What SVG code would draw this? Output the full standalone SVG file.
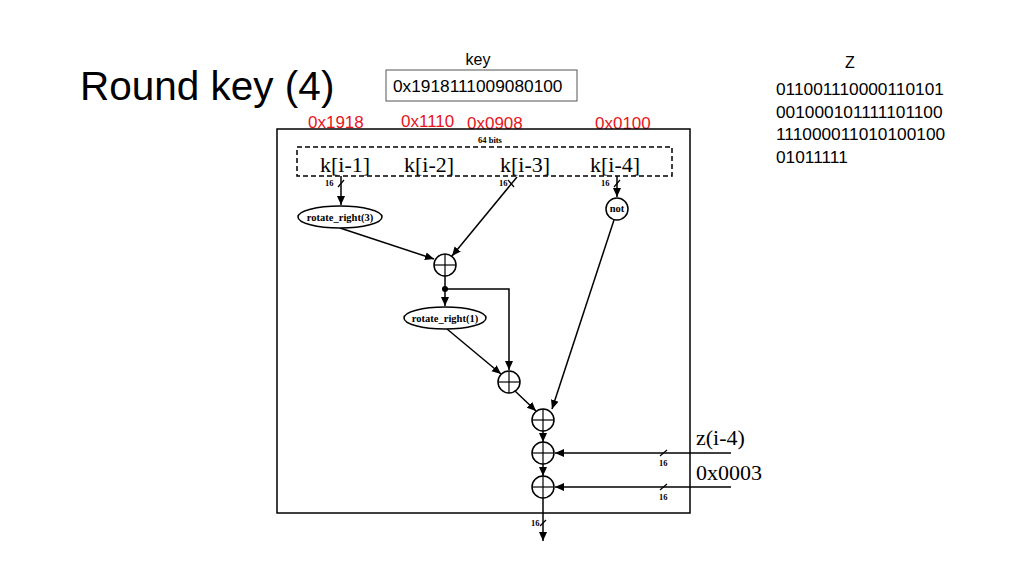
<svg xmlns="http://www.w3.org/2000/svg" width="1024" height="576" viewBox="0 0 1024 576">
<style>
.sans{font-family:"Liberation Sans","Open Sans",sans-serif;fill:#000}
.red{font-family:"Liberation Sans","Open Sans",sans-serif;fill:#e8141c;font-size:17px}
.ser{font-family:"Liberation Serif","DejaVu Serif",serif;fill:#000}
.small{font-family:"Liberation Serif","DejaVu Serif",serif;font-weight:bold;font-size:8.5px;fill:#000}
.lbl{font-family:"Liberation Serif","DejaVu Serif",serif;font-weight:bold;font-size:10.5px;fill:#000}
.ln{stroke:#000;stroke-width:1.5;fill:none}
.shape{stroke:#000;stroke-width:1.5;fill:#fff}
.tick{stroke:#000;stroke-width:1.2}
</style>
<defs>
<marker id="ah" markerWidth="10" markerHeight="10" refX="9" refY="5" orient="auto" markerUnits="userSpaceOnUse">
<path d="M0,1 L9,5 L0,9 Z" fill="#000"/>
</marker>
<g id="xor">
<circle r="11" class="shape"/>
<line x1="-11" y1="0" x2="11" y2="0" class="tick"/>
<line x1="0" y1="-11" x2="0" y2="11" class="tick"/>
</g>
</defs>
<rect width="1024" height="576" fill="#fff"/>

<g id="title"><text x="80" y="100" class="sans" font-size="40.5">Round key (4)</text></g>
<g id="key">
<text x="478" y="65" class="sans" font-size="16" text-anchor="middle">key</text>
<rect x="386" y="70" width="191" height="31" fill="#fff" stroke="#555" stroke-width="1"/>
<text x="393" y="92" class="sans" font-size="17.3">0x1918111009080100</text>
</g>
<g id="z">
<text x="850" y="68" class="sans" font-size="16" text-anchor="middle">Z</text>
<text class="sans" font-size="17.3"><tspan x="776" y="95">011001110000110101</tspan><tspan x="776" y="118">001000101111101100</tspan><tspan x="776" y="140">111000011010100100</tspan><tspan x="776" y="163">01011111</tspan></text>
</g>
<g id="red-labels">
<text x="308" y="128" class="red">0x1918</text>
<text x="401" y="127" class="red">0x1110</text>
<text x="467" y="129" class="red">0x0908</text>
<text x="595" y="129" class="red">0x0100</text>
</g>

<g id="frame"><rect x="277" y="129" width="413" height="384" fill="none" stroke="#000" stroke-width="1.5"/></g>
<g id="register">
<rect x="297" y="147" width="375" height="29" fill="none" stroke="#000" stroke-width="1.5" stroke-dasharray="5,3"/>
<text x="490" y="143" class="small" text-anchor="middle" font-size="7">64 bits</text>
<text class="ser" font-size="22" text-anchor="middle"><tspan x="345" y="172">k[i-1]</tspan><tspan x="429" y="172">k[i-2]</tspan><tspan x="525" y="172">k[i-3]</tspan><tspan x="615" y="172">k[i-4]</tspan></text>
</g>

<g id="connectors">
<line x1="341" y1="176" x2="341" y2="205" class="ln" marker-end="url(#ah)"/>
<line x1="517" y1="177" x2="452" y2="256" class="ln" marker-end="url(#ah)"/>
<line x1="617" y1="176" x2="617" y2="197" class="ln" marker-end="url(#ah)"/>
<line x1="340" y1="228" x2="434" y2="259" class="ln" marker-end="url(#ah)"/>
<line x1="445" y1="276" x2="445" y2="306" class="ln" marker-end="url(#ah)"/>
<polyline points="445,289 509,289 509,370" class="ln" marker-end="url(#ah)"/>
<circle cx="445" cy="289" r="3" fill="#000"/>
<line x1="447" y1="329" x2="501" y2="374" class="ln" marker-end="url(#ah)"/>
<line x1="515" y1="391" x2="536" y2="411" class="ln" marker-end="url(#ah)"/>
<line x1="614" y1="220" x2="552" y2="409" class="ln" marker-end="url(#ah)"/>
<line x1="543" y1="431" x2="543" y2="442" class="ln" marker-end="url(#ah)"/>
<line x1="543" y1="464" x2="543" y2="476" class="ln" marker-end="url(#ah)"/>
<line x1="731" y1="453" x2="555" y2="453" class="ln" marker-end="url(#ah)"/>
<line x1="731" y1="487" x2="555" y2="487" class="ln" marker-end="url(#ah)"/>
<line x1="543" y1="498" x2="543" y2="541" class="ln" marker-end="url(#ah)"/>
<g class="tick">
<line x1="338" y1="187" x2="344" y2="180"/>
<line x1="508" y1="180" x2="514" y2="187"/>
<line x1="614" y1="187" x2="620" y2="180"/>
<line x1="660" y1="456" x2="667" y2="450"/>
<line x1="660" y1="490" x2="667" y2="484"/>
<line x1="540" y1="526" x2="546" y2="520"/>
</g>
<text class="small"><tspan x="325" y="186">16</tspan><tspan x="499" y="186">16</tspan><tspan x="601" y="186">16</tspan><tspan x="659" y="466">16</tspan><tspan x="659" y="500">16</tspan><tspan x="531" y="526">16</tspan></text>
</g>

<g id="rotate3"><ellipse cx="340" cy="217" rx="42" ry="11" class="shape"/><text x="340" y="221" class="lbl" text-anchor="middle">rotate_right(3)</text></g>
<g id="not"><circle cx="617" cy="209" r="11" class="shape"/><text x="617" y="212" class="lbl" font-size="9" text-anchor="middle">not</text></g>
<g id="xor1"><use href="#xor" x="445" y="265"/></g>
<g id="rotate1"><ellipse cx="445" cy="318" rx="41" ry="11" class="shape"/><text x="445" y="322" class="lbl" text-anchor="middle">rotate_right(1)</text></g>
<g id="xor2"><use href="#xor" x="509" y="382"/></g>
<g id="xor3"><use href="#xor" x="543" y="420"/></g>
<g id="xor4"><use href="#xor" x="543" y="453"/></g>
<g id="xor5"><use href="#xor" x="543" y="487"/></g>
<g id="inputs">
<text x="696" y="445" class="ser" font-size="22">z(i-4)</text>
<text x="696" y="480" class="ser" font-size="22">0x0003</text>
</g>
</svg>
